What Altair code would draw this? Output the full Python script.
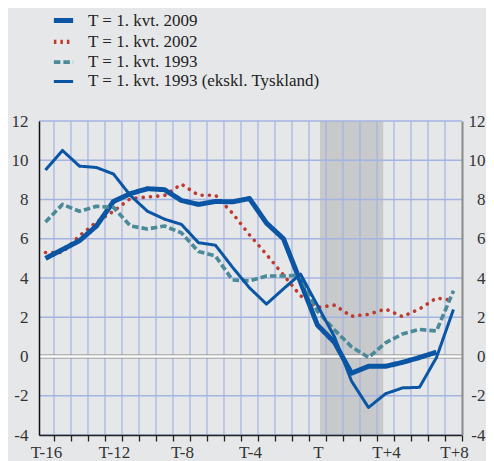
import altair as alt
import pandas as pd

# ---- data ----
quarters = list(range(-16, 9))  # T-16 ... T+8
names = [
    "T = 1. kvt. 2009",
    "T = 1. kvt. 2002",
    "T = 1. kvt. 1993",
    "T = 1. kvt. 1993 (ekskl. Tyskland)",
]
s2009 = [5.0, 5.45, 5.9, 6.65, 7.9, 8.3, 8.55, 8.5, 7.95, 7.75, 7.9, 7.88, 8.05,
         6.8, 6.0, 3.8, 1.6, 0.72, -0.85, -0.5, -0.5, -0.3, -0.05, 0.22, None]
s2002 = [5.3, 5.3, 6.15, 6.85, 7.4, 8.05, 8.13, 8.2, 8.78, 8.22, 8.22, 7.3, 6.2,
         5.2, 4.15, 3.1, 2.5, 2.62, 2.05, 2.15, 2.42, 2.03, 2.42, 2.98, 2.85]
s1993 = [6.85, 7.75, 7.4, 7.65, 7.6, 6.65, 6.5, 6.65, 6.3, 5.35, 5.12, 3.9, 3.85,
         4.1, 4.1, 4.15, 2.3, 1.35, 0.5, -0.05, 0.7, 1.15, 1.38, 1.3, 3.35]
s1993x = [9.5, 10.5, 9.7, 9.63, 9.3, 8.2, 7.4, 7.0, 6.73, 5.8, 5.67, 4.55, 3.5,
          2.67, 3.45, 4.2, 2.6, 1.0, -1.25, -2.6, -1.9, -1.6, -1.57, -0.05, 2.4]
series_values = [s2009, s2002, s1993, s1993x]

tick_positions = [-16, -12, -8, -4, 0, 4, 8]
tick_labels = ["T-16", "T-12", "T-8", "T-4", "T", "T+4", "T+8"]
recession = [0.15, 3.87]
y_ticks = [-4, -2, 0, 2, 4, 6, 8, 10, 12]

# ---- styling ----
BG = "#e6e7e9"
GRID = "#a3b3e2"
FONT = "Liberation Serif"
colors = ["#0b56a4", "#bd3a2e", "#4a8a99", "#0b56a4"]
dashes = [[1, 0], [2.5, 4], [6.5, 3], [1, 0]]
widths = [5, 3, 4, 2]

rows = []
for name, vals in zip(names, series_values):
    for q, v in zip(quarters, vals):
        rows.append({"serie": name, "q": q, "v": v})
df = pd.DataFrame(rows)

x_domain = [-16.38, 8.5]
PX_PER_Q = 423 / (x_domain[1] - x_domain[0])
# grid lines / ticks sit on the quarter boundaries; labels are shifted back towards the quarter
boundaries = [q + 0.5 for q in quarters]
label_expr = " : ".join(
    f"datum.value == {p + 0.5} ? '{l}'" for p, l in zip(tick_positions, tick_labels)
) + " : ''"
xscale = alt.Scale(domain=x_domain, nice=False, zero=False)
yscale = alt.Scale(domain=[-4, 12], nice=False, zero=False)

# shaded period
shade = alt.Chart(pd.DataFrame({"a": [recession[0]], "b": [recession[1]]})).mark_rect(
    color="#c8c9cb"
).encode(
    x=alt.X("a:Q", scale=xscale, axis=None),
    x2="b:Q",
)

# grid lines (drawn over the shading)
vgrid = alt.Chart(pd.DataFrame({"g": boundaries[:-1]})).mark_rule(
    color=GRID, strokeWidth=1.2
).encode(x=alt.X("g:Q", scale=xscale, axis=None))
hgrid = alt.Chart(pd.DataFrame({"h": y_ticks})).mark_rule(
    color=GRID, strokeWidth=1.3
).encode(y=alt.Y("h:Q", scale=yscale, axis=alt.Axis(
    values=y_ticks, orient="left", grid=False,
    ticks=False, labelPadding=11, labelFont=FONT, labelFontSize=17, labelColor="#333",
    labelExpr="toString(datum.value)", zindex=1,
    domain=True, domainColor="#111", domainWidth=1.5, title=None)))

# zero line
zero_df = pd.DataFrame({"z": [0]})
zero_base = alt.Chart(zero_df).mark_rule(color="#858585", strokeWidth=4).encode(
    y=alt.Y("z:Q", scale=yscale, axis=None)
)
zero_top = alt.Chart(zero_df).mark_rule(color="#ffffff", strokeWidth=2.4).encode(
    y=alt.Y("z:Q", scale=yscale, axis=None)
)

main = df[df["serie"] != names[1]]
lines = alt.Chart(main).mark_line(strokeCap="butt", strokeJoin="round").encode(
    x=alt.X("q:Q", scale=xscale, axis=alt.Axis(
        values=boundaries, labelExpr=label_expr, orient="bottom", grid=False,
        ticks=True, tickSize=6, tickColor="#222", tickWidth=1.3, tickOpacity=1,
        domain=True, domainColor="#222", domainWidth=1.3, zindex=1,
        labelOffset=-PX_PER_Q / 2 + 0.5, labelPadding=3, labelFont=FONT, labelFontSize=17,
        labelColor="#333", labelFlush=False, title=None)),
    y=alt.Y("v:Q", scale=yscale, axis=alt.Axis(
        values=y_ticks, orient="right", grid=False, ticks=False, labelPadding=23,
        labelAlign="right", labelExpr="toString(datum.value)",
        labelFont=FONT, labelFontSize=17, labelColor="#333", domain=True,
        domainColor="#8a8a8a", domainWidth=2, zindex=1, title=None)),
    color=alt.Color("serie:N", scale=alt.Scale(domain=names, range=colors),
                    sort=names, legend=alt.Legend(title=None)),
    strokeDash=alt.StrokeDash("serie:N", scale=alt.Scale(domain=names, range=dashes),
                              sort=names, legend=alt.Legend(title=None)),
    strokeWidth=alt.StrokeWidth("serie:N", scale=alt.Scale(domain=names, range=widths),
                                sort=names, legend=alt.Legend(title=None)),
    order=alt.Order("q:Q"),
)

red = alt.Chart(df[df["serie"] == names[1]]).mark_line(
    color=colors[1], strokeDash=[0.1, 7.2], strokeCap="round", strokeWidth=3.6
).encode(
    x=alt.X("q:Q", scale=xscale, axis=None),
    y=alt.Y("v:Q", scale=yscale, axis=None),
    order=alt.Order("q:Q"),
)

chart = alt.layer(shade, vgrid, hgrid, zero_base, zero_top, red, lines).resolve_axis(
    x="independent", y="independent"
).properties(
    width=423, height=314,
    autosize=alt.AutoSizeParams(type="none"),
    padding={"left": 31, "top": 113, "right": 24, "bottom": 26},
    background=BG,
).configure_view(stroke=None, fill=BG).configure_legend(
    orient="none", legendX=16, legendY=-109, padding=0,
    labelFont=FONT, labelFontSize=17, labelColor="#222", labelLimit=500,
    symbolType="M-1.75,0H1.75", symbolSize=121, labelOffset=16, rowPadding=1.3,
)

chart.save("out.html", embed_options={"renderer": "svg", "actions": False})
